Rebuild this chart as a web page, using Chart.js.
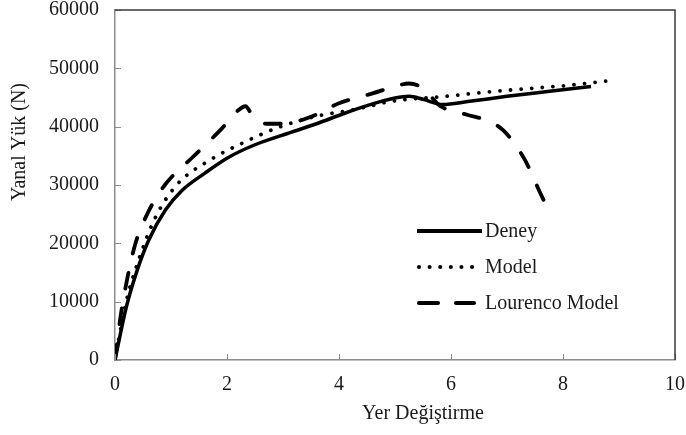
<!DOCTYPE html>
<html>
<head>
<meta charset="utf-8">
<script src="https://cdn.jsdelivr.net/npm/chart.js@4.4.1/dist/chart.umd.min.js"></script>
<style>
  html, body { margin: 0; padding: 0; background: #fff; }
  #wrap { width: 686px; height: 435px; }
</style>
</head>
<body>
<div id="wrap"><canvas id="c" width="686" height="435"></canvas></div>
<script>
// values
const deneyX = [0, 0.2, 0.4, 0.6, 0.9, 1.2, 1.6, 2.0, 2.5, 3.1, 3.6, 4.1, 4.6, 5.0, 5.25, 5.5, 5.85, 6.3, 7.0, 7.8, 8.5];
const deneyY = [0, 9000, 15500, 20500, 25700, 29100, 32000, 34600, 36900, 38900, 40500, 42300, 43900, 44900, 45200, 44700, 43800, 44300, 45200, 46100, 46900];

const modelX = [0, 0.2, 0.4, 0.7, 1.1, 1.7, 2.3, 2.9, 3.6, 4.2, 4.5, 4.9, 5.5, 5.8, 6.4, 7.2, 8.0, 8.85];
const modelY = [0, 10000, 16500, 24000, 30000, 34300, 37300, 39800, 41800, 42800, 43400, 44300, 44900, 45100, 45700, 46400, 47000, 47900];

const lourX = [0, 0.1, 0.22, 0.36, 0.59, 0.89, 1.39, 1.88, 2.2, 2.33, 2.45, 2.7, 3.0, 3.5, 4.0, 4.6, 5.0, 5.25, 5.5, 5.8, 6.3, 6.6, 6.93, 7.32, 7.6, 7.7];
const lourY = [0, 7500, 14000, 19800, 25300, 30000, 34800, 39400, 42800, 43500, 42000, 40500, 40500, 41700, 44000, 45700, 46900, 47400, 46600, 43600, 42000, 41200, 39400, 34300, 28500, 26500];

const seriesNames = ["Deney", "Model", "Lourenco Model"];
const xTicks = [0, 2, 4, 6, 8, 10];
const yTicks = [0, 10000, 20000, 30000, 40000, 50000, 60000];
const xTitle = "Yer Değiştirme";
const yTitle = "Yanal Yük (N)";

const FONT = "20px 'Liberation Serif', 'Times New Roman', serif";
const axisGray = "#8c8c8c";

function pairs(xs, ys) {
  return xs.map(function (x, i) { return { x: x, y: ys[i] }; });
}

const lineStyles = [
  { dash: [], width: 3.5, cap: "butt" },
  { dash: [0.01, 10.6], width: 3.8, cap: "round" },
  { dash: [16, 20], width: 3.8, cap: "round" }
];

const extras = {
  id: "extras",
  afterDraw: function (chart) {
    const ctx = chart.ctx;
    const a = chart.chartArea;
    const xs = chart.scales.x, ys = chart.scales.y;
    ctx.save();

    // inward tick marks
    ctx.strokeStyle = axisGray;
    ctx.lineWidth = 1.2;
    ctx.beginPath();
    yTicks.forEach(function (v) {
      const py = Math.round(ys.getPixelForValue(v)) + 0.5;
      ctx.moveTo(a.left, py);
      ctx.lineTo(a.left + 6, py);
    });
    xTicks.forEach(function (v) {
      const px = Math.round(xs.getPixelForValue(v)) + 0.5;
      ctx.moveTo(px, a.bottom);
      ctx.lineTo(px, a.bottom - 6);
    });
    ctx.stroke();

    // top and right frame
    ctx.strokeStyle = "#3a3a3a";
    ctx.lineWidth = 1.5;
    ctx.beginPath();
    ctx.moveTo(a.left, a.top);
    ctx.lineTo(a.right, a.top);
    ctx.lineTo(a.right, a.bottom);
    ctx.stroke();

    // legend
    const rows = [231, 267, 303];
    ctx.strokeStyle = "#000";
    for (let i = 0; i < 3; i++) {
      const st = lineStyles[i];
      ctx.lineWidth = st.width + 0.3;
      ctx.lineCap = st.cap;
      ctx.setLineDash(st.dash);
      ctx.beginPath();
      if (i === 2) {
        ctx.moveTo(419, rows[i]);
        ctx.lineTo(474, rows[i]);
        ctx.setLineDash([19, 18]);
      } else if (i === 1) {
        ctx.moveTo(419, rows[i]);
        ctx.lineTo(474, rows[i]);
      } else {
        ctx.moveTo(417, rows[i]);
        ctx.lineTo(482, rows[i]);
      }
      ctx.stroke();
    }
    ctx.setLineDash([]);
    ctx.fillStyle = "#1a1a1a";
    ctx.font = FONT;
    ctx.textAlign = "left";
    ctx.textBaseline = "middle";
    seriesNames.forEach(function (n, i) {
      ctx.fillText(n, 485, rows[i] + 1);
    });

    // axis titles
    ctx.textAlign = "center";
    ctx.fillText(xTitle, 423, 414);
    ctx.translate(20, 142);
    ctx.rotate(-Math.PI / 2);
    ctx.fillText(yTitle, 0, 0);
    ctx.restore();
  }
};

const datasets = [pairs(deneyX, deneyY), pairs(modelX, modelY), pairs(lourX, lourY)].map(function (d, i) {
  return {
    label: seriesNames[i],
    data: d,
    borderColor: "#000",
    borderWidth: lineStyles[i].width,
    borderDash: lineStyles[i].dash,
    borderCapStyle: lineStyles[i].cap,
    borderJoinStyle: "round",
    pointRadius: 0,
    fill: false,
    cubicInterpolationMode: "monotone"
  };
});

new Chart(document.getElementById("c"), {
  type: "line",
  data: { datasets: datasets },
  options: {
    responsive: false,
    animation: false,
    layout: { padding: { top: 10, right: 11, left: 0, bottom: 0 } },
    plugins: { legend: { display: false }, tooltip: { enabled: false } },
    scales: {
      x: {
        type: "linear",
        min: 0,
        max: 10,
        afterFit: function (s) {
          s.height = 75;
          s.paddingLeft = 0;
          s.paddingRight = 0;
        },
        afterBuildTicks: function (s) { s.ticks = xTicks.map(function (v) { return { value: v }; }); },
        grid: { display: false, drawTicks: false },
        border: { display: true, color: axisGray, width: 1.5 },
        ticks: { color: "#1a1a1a", font: { family: "'Liberation Serif', serif", size: 20 }, padding: 13, maxRotation: 0 }
      },
      y: {
        min: 0,
        max: 60000,
        afterFit: function (s) {
          s.width = 115;
          s.paddingTop = 0;
          s.paddingBottom = 0;
        },
        afterBuildTicks: function (s) { s.ticks = yTicks.map(function (v) { return { value: v }; }); },
        grid: { display: false, drawTicks: false },
        border: { display: true, color: axisGray, width: 1.5 },
        ticks: {
          color: "#1a1a1a",
          font: { family: "'Liberation Serif', serif", size: 20 },
          padding: 16,
          callback: function (v) { return String(v); }
        }
      }
    }
  },
  plugins: [extras]
});
</script>
</body>
</html>
